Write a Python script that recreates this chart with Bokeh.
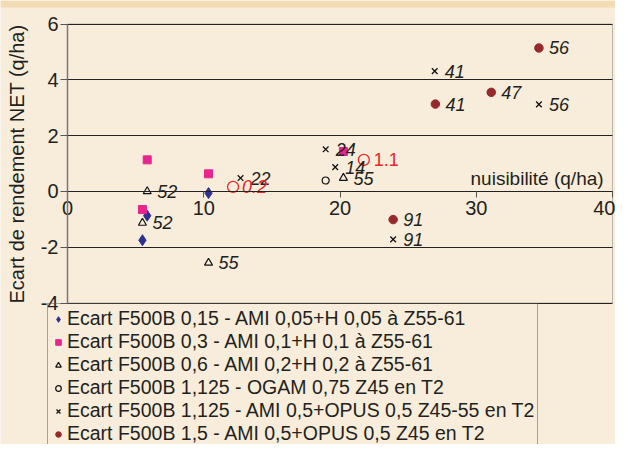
from bokeh.plotting import figure
from bokeh.models import Range1d, FixedTicker, Legend, LegendItem, Label, BoxAnnotation
from bokeh.core.properties import value
from bokeh.embed import file_html
from bokeh.resources import INLINE

# ---- data ----
s1_x = [5.5, 5.85, 10.35]
s1_y = [-1.75, -0.87, -0.06]

s2_x = [5.85, 5.5, 10.35, 20.25]
s2_y = [1.13, -0.65, 0.63, 1.43]

s3_x = [5.85, 5.5, 10.35, 20.25]
s3_y = [0.0, -1.13, -2.56, 0.48]
s3_lab = ["52", "52", "55", "55"]

s4_x = [18.95]
s4_y = [0.39]

red_x = [12.15, 21.75]
red_y = [0.16, 1.13]
red_lab = ["0.2", "1.1"]

s5_x = [12.7, 18.95, 19.65, 23.9, 26.95, 34.6]
s5_y = [0.48, 1.51, 0.87, -1.72, 4.31, 3.12]
s5_lab = ["22", "24", "14", "91", "41", "56"]

s6_x = [34.6, 27.0, 31.1, 23.9]
s6_y = [5.14, 3.13, 3.55, -1.01]
s6_lab = ["56", "41", "47", "91"]

legend_labels = [
    "Ecart F500B 0,15 - AMI 0,05+H 0,05 à Z55-61",
    "Ecart F500B 0,3 - AMI 0,1+H 0,1 à Z55-61",
    "Ecart F500B 0,6 - AMI 0,2+H 0,2 à Z55-61",
    "Ecart F500B 1,125 - OGAM 0,75 Z45 en T2",
    "Ecart F500B 1,125 - AMI 0,5+OPUS 0,5 Z45-55 en T2",
    "Ecart F500B 1,5 - AMI 0,5+OPUS 0,5 Z45 en T2",
]
x_ticks = [0, 10, 20, 30, 40]
y_ticks = [-4, -2, 0, 2, 4, 6]
y_tick_labels = {-4: "-4", -2: "-2", 0: "0", 2: "2", 4: "4", 6: "6"}
X_MIN, X_MAX = 0, 40
Y_MIN, Y_MAX = -4, 6
y_title = "Ecart de rendement NET (q/ha)"
x_title = "nuisibilité (q/ha)"

FONT = "Liberation Sans"
BG = "#F7EDDA"
BAND = "#F2DCB4"
TXT = "#231F20"

W, H = 615, 444
# layout (pixels): x=0 at 67, x=40 at 612; y=6 at 23.5, y=-4 at 302.5
px_x = (612 - 67) / 40.0
px_y = (302.5 - 23.5) / 10.0
x_start = X_MIN - 67 / px_x
x_end = X_MAX + (W - 612) / px_x
y_end = Y_MAX + 23.5 / px_y
y_start = Y_MIN - (H - 302.5) / px_y

p = figure(width=W, height=H, output_backend="svg", toolbar_location=None,
           x_range=Range1d(x_start, x_end), y_range=Range1d(y_start, y_end),
           min_border=0, background_fill_color=BG, border_fill_color=BG)
p.outline_line_color = None

# darker band along the top edge
p.add_layout(BoxAnnotation(top=y_end, bottom=y_end - 7 / px_y, fill_color=BAND, fill_alpha=1,
                           line_color=None, level="underlay"))

p.xgrid.visible = False
yg = p.ygrid[0]
yg.ticker = FixedTicker(ticks=y_ticks)
yg.grid_line_color = "#222222"
yg.grid_line_width = 1
if "cross_bounds" in yg.properties():
    yg.cross_bounds = (X_MIN, X_MAX)
else:
    yg.visible = False
    p.hbar(y=y_ticks, left=X_MIN, right=X_MAX, height=0, line_color="#222222", line_width=1)

# plot box border
p.add_layout(BoxAnnotation(left=X_MIN, right=X_MAX, bottom=Y_MIN, top=Y_MAX,
                           fill_alpha=0, line_color="#333333", line_width=1, level="underlay"))

# y axis at x = 0
ya = p.yaxis[0]
ya.fixed_location = 0
ya.bounds = (Y_MIN, Y_MAX)
ya.ticker = FixedTicker(ticks=y_ticks)
ya.major_label_overrides = y_tick_labels
ya.axis_line_color = "#777777"
ya.axis_line_width = 1.5
ya.major_tick_line_color = "#555555"
ya.major_tick_out = 7
ya.major_tick_in = 0
ya.minor_tick_line_color = None
ya.major_label_text_font = FONT
ya.major_label_text_font_size = "20px"
ya.major_label_text_color = TXT
ya.major_label_standoff = 2
ya.axis_label = y_title
ya.axis_label_text_font = FONT
ya.axis_label_text_font_size = "20px"
ya.axis_label_text_font_style = "normal"
ya.axis_label_text_color = TXT
ya.axis_label_standoff = 10

# x axis at y = 0
xa = p.xaxis[0]
xa.fixed_location = 0
xa.bounds = (X_MIN, X_MAX)
xa.ticker = FixedTicker(ticks=x_ticks)
xa.axis_line_color = "#222222"
xa.major_tick_line_color = "#555555"
xa.major_tick_out = 6
xa.major_tick_in = 0
xa.minor_tick_line_color = None
xa.major_label_text_font = FONT
xa.major_label_text_font_size = "20px"
xa.major_label_text_color = TXT
xa.major_label_standoff = 4

p.add_layout(Label(x=29.58, y=0.46, text=x_title, text_font=FONT, text_font_size="19px",
                   text_color=TXT, text_baseline="middle"))

# series
r1 = p.scatter(s1_x, s1_y, marker="diamond", size=11, fill_color="#2E3192", line_color="#2E3192")
r2 = p.scatter(s2_x, s2_y, marker="square", size=8, fill_color="#E8258F", line_color="#E8258F")
r3 = p.scatter(s3_x, s3_y, marker="triangle", size=8, fill_color=BG, line_color="#111111", line_width=1.2)
r4 = p.scatter(s4_x, s4_y, marker="circle", size=7, fill_color=BG, line_color="#111111", line_width=1.2)
rr = p.scatter(red_x, red_y, marker="circle", size=11, fill_color=None, line_color="#E8262B", line_width=1.3)
r5 = p.scatter(s5_x, s5_y, marker="x", size=8, line_color="#111111", line_width=1.3)
r6 = p.scatter(s6_x, s6_y, marker="circle", size=8.5, fill_color="#962A2A", line_color="#962A2A")

lab_kw = dict(text_font=value(FONT), text_font_size="18px", text_font_style="italic",
              text_color=TXT, text_baseline="middle", x_offset=10)
p.text(s3_x, s3_y, text=s3_lab, **lab_kw)
p.text(s5_x, s5_y, text=s5_lab, **lab_kw)
p.text(s6_x, s6_y, text=s6_lab, **lab_kw)
p.text(red_x[:1], red_y[:1], text=red_lab[:1], text_font=value(FONT), text_font_size="18px",
       text_font_style="italic", text_color="#E8262B", text_baseline="middle", x_offset=9)
p.text(red_x[1:], red_y[1:], text=red_lab[1:], text_font=value(FONT), text_font_size="18px",
       text_font_style="normal", text_color="#E8262B", text_baseline="middle", x_offset=10)

items = [LegendItem(label=l, renderers=[r]) for l, r in zip(legend_labels, [r1, r2, r3, r4, r5, r6])]
legend = Legend(items=items, orientation="vertical", location=(47, -5),
                label_text_font=FONT, label_text_font_size="19.5px", label_text_color=TXT,
                label_height=20, glyph_height=20, glyph_width=14, label_standoff=2,
                padding=3, spacing=0, margin=0,
                border_line_color="#555555", border_line_width=1,
                background_fill_alpha=0)
p.add_layout(legend, "center")

open("out.html", "w").write(file_html(p, INLINE))
